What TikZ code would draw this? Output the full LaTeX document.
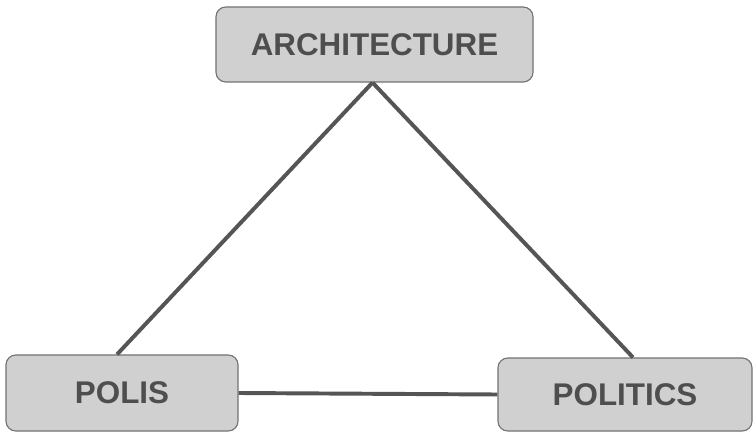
\documentclass[tikz,border=0pt]{standalone}
\usepackage{fontspec}
\setmainfont{Liberation Sans}
\usepackage{tikz}
\usetikzlibrary{calc}

\definecolor{boxfill}{RGB}{208,208,208}
\definecolor{boxline}{RGB}{115,115,115}
\definecolor{linkline}{RGB}{85,85,85}
\definecolor{labelgray}{RGB}{78,78,78}

\begin{document}
\begin{tikzpicture}[
    x=0.025cm, y=-0.025cm,
    termbox/.style={draw=boxline, line width=0.8pt, fill=boxfill, rounded corners=7pt,
        text=labelgray, font=\fontsize{22.3}{26}\selectfont\bfseries, inner sep=0pt},
    link/.style={draw=linkline, line width=2.8pt}
]
\useasboundingbox (0,0) rectangle (756,433);
% the three terms
\node[termbox, minimum width=7.925cm, minimum height=1.875cm] (arch) at (374.5,44.5) {ARCHITECTURE};
\node[termbox, minimum width=5.8cm, minimum height=1.9cm] (polis) at (122,393) {POLIS};
\node[termbox, minimum width=6.35cm, minimum height=1.825cm] (politics) at (625,394.5) {POLITICS};
% links between them
\draw[link] ($(arch.south)+(-2,0)$) -- ($(polis.north)+(-5,0)$);
\draw[link] ($(arch.south)+(-2,0)$) -- ($(politics.north)+(8,0)$);
\draw[link] (polis.east) -- (politics.west);
\end{tikzpicture}
\end{document}
